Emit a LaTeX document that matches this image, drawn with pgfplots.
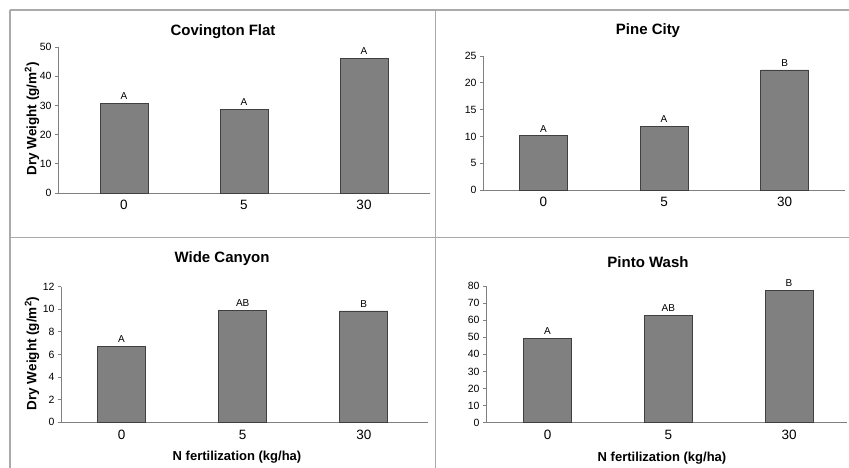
\documentclass[border=0pt]{standalone}
\usepackage{fontspec}
\setmainfont{Liberation Sans}
\usepackage{pgfplots}
\pgfplotsset{compat=1.18}
\definecolor{barfill}{RGB}{128,128,128}
\definecolor{baredge}{RGB}{64,64,64}
\definecolor{axisgray}{RGB}{128,128,128}
\definecolor{framegray}{RGB}{170,170,170}
\pgfplotsset{
  panel/.style={
    scale only axis,
    anchor=south west,
    axis x line=bottom, axis y line=left,
    axis line style={-, draw=axisgray, line width=0.9pt},
    ymin=0,
    xtick={0,1,2}, xticklabels={0,5,30},
    xtick style={draw=none},
    ytick style={draw=axisgray, line width=0.8pt},
    tick align=outside, major tick length=3pt,
    x tick label style={font=\fontsize{13.5}{15}\selectfont, yshift=-1pt},
    y tick label style={font=\fontsize{10.5}{12}\selectfont},
    /pgf/number format/assume math mode=true,
    ybar, bar width=48pt,
    nodes near coords, point meta=explicit symbolic,
    nodes near coords style={font=\fontsize{10}{12}\selectfont, text=black, yshift=0pt},
    clip=false,
  },
  barstyle/.style={fill=barfill, draw=baredge, line width=0.8pt}
}
\begin{document}
\begin{tikzpicture}[x=1pt,y=1pt]
\path[use as bounding box] (0,0) rectangle (849,468);
% frame lines
\draw[framegray, line width=1.2pt] (10,458) -- (849,458);
\draw[framegray, line width=1.2pt] (10,0) -- (10,458);
\draw[framegray, line width=1.2pt] (435.5,0) -- (435.5,458);
\draw[framegray, line width=1.2pt] (10,230.5) -- (849,230.5);

% Covington Flat
\begin{axis}[panel, at={(58pt,275pt)}, width=372pt, height=146pt,
  xmin=-0.55, xmax=2.55, ymax=50, ytick={0,10,20,30,40,50}]
\addplot[barstyle] coordinates {(0,30.7)[A] (1,28.7)[A] (2,46.1)[A]};
\end{axis}
% Pine City
\begin{axis}[panel, at={(483pt,278pt)}, width=362pt, height=134pt,
  xmin=-0.5, xmax=2.5, ymax=25, ytick={0,5,10,15,20,25}]
\addplot[barstyle] coordinates {(0,10.1)[A] (1,11.9)[A] (2,22.4)[B]};
\end{axis}
% Wide Canyon
\begin{axis}[panel, at={(61pt,45.7pt)}, width=367pt, height=135.7pt,
  xmin=-0.5, xmax=2.53, ymax=12, ytick={0,2,4,6,8,10,12}]
\addplot[barstyle] coordinates {(0,6.7)[A] (1,9.9)[AB] (2,9.85)[B]};
\end{axis}
% Pinto Wash
\begin{axis}[panel, at={(486pt,45.3pt)}, width=361pt, height=136.7pt,
  xmin=-0.51, xmax=2.48, ymax=80, ytick={0,10,20,30,40,50,60,70,80}]
\addplot[barstyle] coordinates {(0,49.4)[A] (1,62.6)[AB] (2,77.6)[B]};
\end{axis}

% titles
\node[font=\bfseries\fontsize{15}{17}\selectfont] at (223,436) {Covington Flat};
\node[font=\bfseries\fontsize{15}{17}\selectfont] at (648,437) {Pine City};
\node[font=\bfseries\fontsize{15}{17}\selectfont] at (222,209) {Wide Canyon};
\node[font=\bfseries\fontsize{15}{17}\selectfont] at (648,206) {Pinto Wash};
% y labels
\node[rotate=90, font=\bfseries\fontsize{13.5}{15}\selectfont] at (32,349) {Dry Weight (g/m\textsuperscript{2})};
\node[rotate=90, font=\bfseries\fontsize{13.5}{15}\selectfont] at (32,114.5) {Dry Weight (g/m\textsuperscript{2})};
% x labels
\node[font=\bfseries\fontsize{13}{15}\selectfont] at (237,11) {N fertilization (kg/ha)};
\node[font=\bfseries\fontsize{13}{15}\selectfont] at (662,10) {N fertilization (kg/ha)};
\end{tikzpicture}
\end{document}
